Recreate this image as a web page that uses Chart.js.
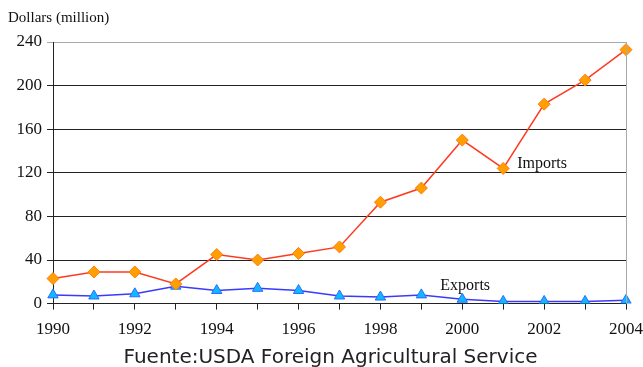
<!DOCTYPE html>
<html>
<head>
<meta charset="utf-8">
<script src="https://cdn.jsdelivr.net/npm/chart.js@4/dist/chart.umd.min.js"></script>
<style>
  html, body { margin: 0; padding: 0; background: #fff; }
  #wrap { position: relative; width: 643px; height: 350px; }
  #footer {
    position: absolute; left: 9px; top: 344px; width: 643px; text-align: center;
    font-family: "DejaVu Sans", sans-serif; font-size: 20px; color: #222;
  }
</style>
</head>
<body>
<div id="wrap"><canvas id="trade"></canvas></div>
<div id="footer">Fuente:USDA Foreign Agricultural Service</div>
<script>
// years on the x axis
const years = ['1990', '1991', '1992', '1993', '1994', '1995', '1996', '1997',
               '1998', '1999', '2000', '2001', '2002', '2003', '2004'];

// dollars (million)
const imports = [23, 29, 29, 18, 45, 40, 46, 52, 93, 106, 150, 124, 183, 205, 233];
const exports = [8, 7, 9, 16, 12, 14, 12, 7, 6, 8, 4, 2, 2, 2, 3];

const yTicks = [0, 40, 80, 120, 160, 200, 240];

// series labels written next to the lines
const lineLabels = [
    { text: 'Imports', year: '2001', value: 124, dx: 14, dy: -5 },
    { text: 'Exports', year: '2000', value: 0, dx: -22, dy: -18 }
];

const serif = 'Liberation Serif, Times New Roman, serif';

const labelPlugin = {
    id: 'lineLabels',
    afterDatasetsDraw(chart) {
        const ctx = chart.ctx;
        const x = chart.scales.x, y = chart.scales.y;
        ctx.save();
        ctx.font = '16px ' + serif;
        ctx.fillStyle = '#111';
        ctx.textBaseline = 'middle';
        lineLabels.forEach(l => {
            ctx.fillText(l.text, x.getPixelForValue(years.indexOf(l.year)) + l.dx,
                         y.getPixelForValue(l.value) + l.dy);
        });
        // right border of the plot
        ctx.strokeStyle = '#aaa';
        ctx.lineWidth = 1;
        ctx.beginPath();
        ctx.moveTo(chart.chartArea.right + 0.5, chart.chartArea.top);
        ctx.lineTo(chart.chartArea.right + 0.5, chart.chartArea.bottom);
        ctx.stroke();
        ctx.restore();
    }
};

const ctxTrade = document.getElementById('trade').getContext('2d');
const tradeChart = new Chart(ctxTrade, {
    type: 'line',
    data: {
        labels: years,
        datasets: [{
            label: 'Imports',
            data: imports,
            borderColor: '#ff3b1f',
            borderWidth: 1.5,
            backgroundColor: '#ffa000',
            pointStyle: 'rectRot',
            pointRadius: 6,
            pointBorderColor: '#ff7a10',
            pointBackgroundColor: '#ffa000',
            pointBorderWidth: 1
        }, {
            label: 'Exports',
            data: exports,
            borderColor: '#3a3aff',
            borderWidth: 1.5,
            backgroundColor: '#10b8ff',
            pointStyle: 'triangle',
            pointRadius: 6,
            pointBorderColor: '#2a6cff',
            pointBackgroundColor: '#10b8ff',
            pointBorderWidth: 1
        }]
    },
    options: {
        responsive: true,
        maintainAspectRatio: false,
        animation: false,
        layout: { padding: { left: 8, right: 0, top: 0, bottom: 0 } },
        plugins: {
            legend: { display: false },
            tooltip: { enabled: false },
            title: {
                display: true,
                text: 'Dollars (million)',
                align: 'start',
                color: '#111',
                font: { family: serif, size: 15, weight: 'normal' },
                padding: { top: 9, bottom: 15 }
            }
        },
        scales: {
            x: {
                offset: false,
                afterFit: axis => { axis.paddingRight = 17; },
                grid: {
                    drawOnChartArea: false,
                    drawTicks: true,
                    tickLength: 6,
                    color: '#222'
                },
                border: { color: '#222', width: 1 },
                ticks: {
                    autoSkip: false,
                    maxRotation: 0,
                    color: '#111',
                    font: { family: serif, size: 17 },
                    padding: 10,
                    callback: (v, i) => (i % 2 === 0 ? years[i] : '')
                }
            },
            y: {
                min: 0,
                max: 240,
                afterBuildTicks: axis => { axis.ticks = yTicks.map(v => ({ value: v })); },
                afterFit: axis => { axis.width = 45; },
                grid: {
                    color: c => (c.tick && c.tick.value === 240 ? '#aaa' : '#222'),
                    tickLength: 6
                },
                border: { color: '#222', width: 1 },
                ticks: {
                    color: '#111',
                    font: { family: serif, size: 17 },
                    padding: 5
                }
            }
        }
    },
    plugins: [labelPlugin]
});
</script>
</body>
</html>
